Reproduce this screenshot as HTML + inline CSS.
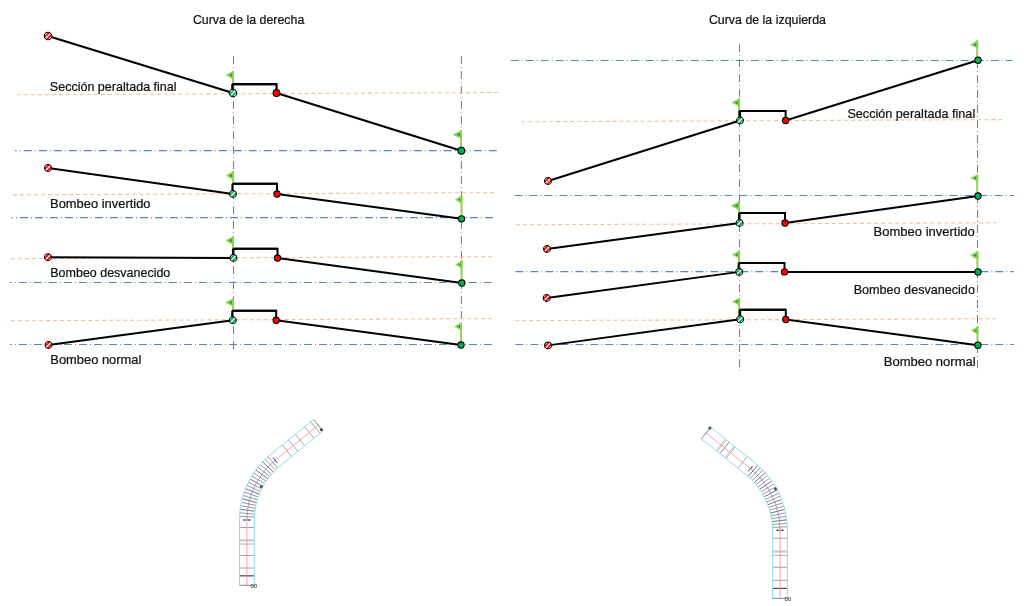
<!DOCTYPE html>
<html><head><meta charset="utf-8"><style>
html,body{margin:0;padding:0;background:#fff;width:1024px;height:606px;overflow:hidden;position:relative}
</style></head><body>
<svg width="1024" height="606" viewBox="0 0 1024 606" style="position:absolute;left:0;top:0;will-change:transform">
<defs><clipPath id="cc"><circle r="3.4"/></clipPath></defs>
<line x1="233.5" y1="56.2" x2="233.5" y2="349" stroke="#5885C8" stroke-width="1.08" stroke-dasharray="7.9 3.1 0.9 3.1" stroke-dashoffset="0"/>
<line x1="461.4" y1="56.2" x2="461.4" y2="320" stroke="#5885C8" stroke-width="1.08" stroke-dasharray="7.9 3.1 0.9 3.1" stroke-dashoffset="0"/>
<line x1="16.8" y1="94.8" x2="497.7" y2="92.5" stroke="#F7BC90" stroke-width="1.05" stroke-dasharray="3.9 3.12" stroke-dashoffset="0"/>
<line x1="15" y1="150.6" x2="497.7" y2="150.6" stroke="#5885C8" stroke-width="1.08" stroke-dasharray="7.9 3.1 0.9 3.1" stroke-dashoffset="6.2"/>
<line x1="13" y1="194.9" x2="493.8" y2="192.6" stroke="#F7BC90" stroke-width="1.05" stroke-dasharray="3.9 3.12" stroke-dashoffset="0"/>
<line x1="11.6" y1="217.6" x2="493.5" y2="217.6" stroke="#5885C8" stroke-width="1.08" stroke-dasharray="7.9 3.1 0.9 3.1" stroke-dashoffset="6.6"/>
<line x1="11" y1="258.7" x2="491.4" y2="256.6" stroke="#F7BC90" stroke-width="1.05" stroke-dasharray="3.9 3.12" stroke-dashoffset="0"/>
<line x1="10" y1="282.5" x2="492.3" y2="282.5" stroke="#5885C8" stroke-width="1.08" stroke-dasharray="7.9 3.1 0.9 3.1" stroke-dashoffset="6.2"/>
<line x1="11" y1="320.8" x2="491.4" y2="318.6" stroke="#F7BC90" stroke-width="1.05" stroke-dasharray="3.9 3.12" stroke-dashoffset="0"/>
<line x1="10.2" y1="344.5" x2="492.4" y2="344.5" stroke="#5885C8" stroke-width="1.08" stroke-dasharray="7.9 3.1 0.9 3.1" stroke-dashoffset="6.2"/>
<line x1="739.5" y1="44.2" x2="739.5" y2="371.3" stroke="#5885C8" stroke-width="1.08" stroke-dasharray="7.9 3.1 0.9 3.1" stroke-dashoffset="0"/>
<line x1="977.5" y1="60" x2="977.5" y2="371.2" stroke="#5885C8" stroke-width="1.08" stroke-dasharray="7.9 3.1 0.9 3.1" stroke-dashoffset="0"/>
<line x1="510.2" y1="60.5" x2="1012.7" y2="60.5" stroke="#5885C8" stroke-width="1.08" stroke-dasharray="7.9 3.1 0.9 3.1" stroke-dashoffset="-0.6"/>
<line x1="521.2" y1="121.8" x2="1001.6" y2="119.6" stroke="#F7BC90" stroke-width="1.05" stroke-dasharray="3.9 3.12" stroke-dashoffset="0"/>
<line x1="514.5" y1="195.5" x2="1014" y2="195.5" stroke="#5885C8" stroke-width="1.08" stroke-dasharray="7.9 3.1 0.9 3.1" stroke-dashoffset="0"/>
<line x1="516.1" y1="224.8" x2="996.5" y2="222.8" stroke="#F7BC90" stroke-width="1.05" stroke-dasharray="3.9 3.12" stroke-dashoffset="0"/>
<line x1="515.4" y1="271.6" x2="1013.8" y2="271.6" stroke="#5885C8" stroke-width="1.08" stroke-dasharray="7.9 3.1 0.9 3.1" stroke-dashoffset="0"/>
<line x1="515.4" y1="344.5" x2="1014" y2="344.5" stroke="#5885C8" stroke-width="1.08" stroke-dasharray="7.9 3.1 0.9 3.1" stroke-dashoffset="0"/>
<line x1="515.2" y1="320.7" x2="995.5" y2="318.7" stroke="#F7BC90" stroke-width="1.05" stroke-dasharray="3.9 3.12" stroke-dashoffset="0"/>
<polyline points="48,36 233,93" fill="none" stroke="#000" stroke-width="2.25" stroke-linejoin="miter" stroke-linecap="butt"/>
<polyline points="233,93 233,84 276.5,84 276.5,93" fill="none" stroke="#000" stroke-width="2.25" stroke-linejoin="miter" stroke-linecap="butt"/>
<polyline points="276.5,93 461.3,150.7" fill="none" stroke="#000" stroke-width="2.25" stroke-linejoin="miter" stroke-linecap="butt"/>
<line x1="233" y1="71" x2="233" y2="89.6" stroke="#92D050" stroke-width="1.9"/>
<polygon points="233.5,71.4 226.5,75 233.5,79.3" fill="#92D050" stroke="#92D050" stroke-width="0.9" stroke-linejoin="round"/>
<polygon points="232.0,73.3 229.0,75.1 232.0,76.7" fill="#00B050"/>
<line x1="461" y1="130" x2="461" y2="147.29999999999998" stroke="#92D050" stroke-width="1.9"/>
<polygon points="461.5,130.4 453.5,134.7 461.5,138.3" fill="#92D050" stroke="#92D050" stroke-width="0.9" stroke-linejoin="round"/>
<polygon points="460.0,133.0 456.0,134.79999999999998 460.0,136.39999999999998" fill="#00B050"/>
<polyline points="232.4,89.6 232.4,84" fill="none" stroke="#000" stroke-width="2.25" stroke-linejoin="miter" stroke-linecap="butt"/>
<polyline points="232.4,84 276.5,84" fill="none" stroke="#000" stroke-width="2.25" stroke-linejoin="miter" stroke-linecap="butt"/>
<g transform="translate(48,36)"><circle r="3.6999999999999997" fill="#fff"/><line x1="-6.10" y1="3.90" x2="3.90" y2="-6.10" stroke="#FF0000" stroke-width="1.75" clip-path="url(#cc)"/><line x1="-3.90" y1="6.10" x2="6.10" y2="-3.90" stroke="#FF0000" stroke-width="1.75" clip-path="url(#cc)"/><circle r="3.6999999999999997" fill="none" stroke="#000" stroke-width="1.05"/></g>
<g transform="translate(233,93)"><circle r="3.6999999999999997" fill="#fff"/><line x1="-6.10" y1="3.90" x2="3.90" y2="-6.10" stroke="#00B050" stroke-width="1.75" clip-path="url(#cc)"/><line x1="-3.90" y1="6.10" x2="6.10" y2="-3.90" stroke="#00B050" stroke-width="1.75" clip-path="url(#cc)"/><circle r="3.6999999999999997" fill="none" stroke="#000" stroke-width="1.05"/></g>
<circle cx="276.5" cy="93" r="3.4" fill="#FF0000" stroke="#000" stroke-width="1.05"/>
<circle cx="461.3" cy="150.7" r="3.4" fill="#00B050" stroke="#000" stroke-width="1.05"/>
<polyline points="48,168 233,194" fill="none" stroke="#000" stroke-width="1.95" stroke-linejoin="miter" stroke-linecap="butt"/>
<polyline points="233,194 233,183.8 277,183.8 277,194" fill="none" stroke="#000" stroke-width="1.95" stroke-linejoin="miter" stroke-linecap="butt"/>
<polyline points="277,194 461.5,218.8" fill="none" stroke="#000" stroke-width="1.95" stroke-linejoin="miter" stroke-linecap="butt"/>
<line x1="233" y1="171" x2="233" y2="190.85" stroke="#92D050" stroke-width="1.9"/>
<polygon points="233.5,171.4 226.5,175.6 233.5,179.70000000000002" fill="#92D050" stroke="#92D050" stroke-width="0.9" stroke-linejoin="round"/>
<polygon points="232.0,173.9 229.0,175.7 232.0,177.29999999999998" fill="#00B050"/>
<line x1="461.5" y1="195.3" x2="461.5" y2="215.65" stroke="#92D050" stroke-width="1.9"/>
<polygon points="462.0,195.70000000000002 455.5,199.6 462.0,203.5" fill="#92D050" stroke="#92D050" stroke-width="0.9" stroke-linejoin="round"/>
<polygon points="460.5,197.9 458.0,199.7 460.5,201.29999999999998" fill="#00B050"/>
<polyline points="232.4,190.85 232.4,183.8" fill="none" stroke="#000" stroke-width="1.95" stroke-linejoin="miter" stroke-linecap="butt"/>
<polyline points="232.4,183.8 277,183.8" fill="none" stroke="#000" stroke-width="1.95" stroke-linejoin="miter" stroke-linecap="butt"/>
<g transform="translate(48,168)"><circle r="3.4499999999999997" fill="#fff"/><line x1="-6.10" y1="3.90" x2="3.90" y2="-6.10" stroke="#FF0000" stroke-width="1.75" clip-path="url(#cc)"/><line x1="-3.90" y1="6.10" x2="6.10" y2="-3.90" stroke="#FF0000" stroke-width="1.75" clip-path="url(#cc)"/><circle r="3.4499999999999997" fill="none" stroke="#000" stroke-width="1.05"/></g>
<g transform="translate(233,194)"><circle r="3.4499999999999997" fill="#fff"/><line x1="-6.10" y1="3.90" x2="3.90" y2="-6.10" stroke="#00B050" stroke-width="1.75" clip-path="url(#cc)"/><line x1="-3.90" y1="6.10" x2="6.10" y2="-3.90" stroke="#00B050" stroke-width="1.75" clip-path="url(#cc)"/><circle r="3.4499999999999997" fill="none" stroke="#000" stroke-width="1.05"/></g>
<circle cx="277" cy="194" r="3.15" fill="#FF0000" stroke="#000" stroke-width="1.05"/>
<circle cx="461.5" cy="218.8" r="3.15" fill="#00B050" stroke="#000" stroke-width="1.05"/>
<polyline points="48,257.2 233.5,257.9" fill="none" stroke="#000" stroke-width="1.95" stroke-linejoin="miter" stroke-linecap="butt"/>
<polyline points="233.5,257.9 233.5,248.75 277.5,248.75 277.5,258" fill="none" stroke="#000" stroke-width="1.95" stroke-linejoin="miter" stroke-linecap="butt"/>
<polyline points="277.5,258 461.8,283" fill="none" stroke="#000" stroke-width="1.95" stroke-linejoin="miter" stroke-linecap="butt"/>
<line x1="233" y1="236.25" x2="233" y2="254.74999999999997" stroke="#92D050" stroke-width="1.9"/>
<polygon points="233.5,236.65 226.0,240.5 233.5,244.8" fill="#92D050" stroke="#92D050" stroke-width="0.9" stroke-linejoin="round"/>
<polygon points="232.0,238.8 228.5,240.6 232.0,242.2" fill="#00B050"/>
<line x1="461.6" y1="260.3" x2="461.6" y2="279.85" stroke="#92D050" stroke-width="1.9"/>
<polygon points="462.1,260.7 455.7,264.7 462.1,268.0" fill="#92D050" stroke="#92D050" stroke-width="0.9" stroke-linejoin="round"/>
<polygon points="460.6,263.0 458.2,264.8 460.6,266.4" fill="#00B050"/>
<polyline points="232.9,254.74999999999997 232.9,248.75" fill="none" stroke="#000" stroke-width="1.95" stroke-linejoin="miter" stroke-linecap="butt"/>
<polyline points="232.9,248.75 277.5,248.75" fill="none" stroke="#000" stroke-width="1.95" stroke-linejoin="miter" stroke-linecap="butt"/>
<g transform="translate(48,257.2)"><circle r="3.4499999999999997" fill="#fff"/><line x1="-6.10" y1="3.90" x2="3.90" y2="-6.10" stroke="#FF0000" stroke-width="1.75" clip-path="url(#cc)"/><line x1="-3.90" y1="6.10" x2="6.10" y2="-3.90" stroke="#FF0000" stroke-width="1.75" clip-path="url(#cc)"/><circle r="3.4499999999999997" fill="none" stroke="#000" stroke-width="1.05"/></g>
<g transform="translate(233.5,257.9)"><circle r="3.4499999999999997" fill="#fff"/><line x1="-6.10" y1="3.90" x2="3.90" y2="-6.10" stroke="#00B050" stroke-width="1.75" clip-path="url(#cc)"/><line x1="-3.90" y1="6.10" x2="6.10" y2="-3.90" stroke="#00B050" stroke-width="1.75" clip-path="url(#cc)"/><circle r="3.4499999999999997" fill="none" stroke="#000" stroke-width="1.05"/></g>
<circle cx="277.5" cy="258" r="3.15" fill="#FF0000" stroke="#000" stroke-width="1.05"/>
<circle cx="461.8" cy="283" r="3.15" fill="#00B050" stroke="#000" stroke-width="1.05"/>
<polyline points="48.5,345 232.8,320.25" fill="none" stroke="#000" stroke-width="1.95" stroke-linejoin="miter" stroke-linecap="butt"/>
<polyline points="232.8,320.25 232.8,310.8 276.2,310.8 276.2,320.25" fill="none" stroke="#000" stroke-width="1.95" stroke-linejoin="miter" stroke-linecap="butt"/>
<polyline points="276.2,320.25 461,345" fill="none" stroke="#000" stroke-width="1.95" stroke-linejoin="miter" stroke-linecap="butt"/>
<line x1="233" y1="298.1" x2="233" y2="317.1" stroke="#92D050" stroke-width="1.9"/>
<polygon points="233.5,298.5 226.0,302.5 233.5,306.5" fill="#92D050" stroke="#92D050" stroke-width="0.9" stroke-linejoin="round"/>
<polygon points="232.0,300.8 228.5,302.6 232.0,304.2" fill="#00B050"/>
<line x1="461" y1="322.6" x2="461" y2="341.85" stroke="#92D050" stroke-width="1.9"/>
<polygon points="461.5,323.0 454.8,326.5 461.5,330.0" fill="#92D050" stroke="#92D050" stroke-width="0.9" stroke-linejoin="round"/>
<polygon points="460.0,324.8 457.3,326.6 460.0,328.2" fill="#00B050"/>
<polyline points="232.20000000000002,317.1 232.20000000000002,310.8" fill="none" stroke="#000" stroke-width="1.95" stroke-linejoin="miter" stroke-linecap="butt"/>
<polyline points="232.20000000000002,310.8 276.2,310.8" fill="none" stroke="#000" stroke-width="1.95" stroke-linejoin="miter" stroke-linecap="butt"/>
<g transform="translate(48.5,345)"><circle r="3.4499999999999997" fill="#fff"/><line x1="-6.10" y1="3.90" x2="3.90" y2="-6.10" stroke="#FF0000" stroke-width="1.75" clip-path="url(#cc)"/><line x1="-3.90" y1="6.10" x2="6.10" y2="-3.90" stroke="#FF0000" stroke-width="1.75" clip-path="url(#cc)"/><circle r="3.4499999999999997" fill="none" stroke="#000" stroke-width="1.05"/></g>
<g transform="translate(232.8,320.25)"><circle r="3.4499999999999997" fill="#fff"/><line x1="-6.10" y1="3.90" x2="3.90" y2="-6.10" stroke="#00B050" stroke-width="1.75" clip-path="url(#cc)"/><line x1="-3.90" y1="6.10" x2="6.10" y2="-3.90" stroke="#00B050" stroke-width="1.75" clip-path="url(#cc)"/><circle r="3.4499999999999997" fill="none" stroke="#000" stroke-width="1.05"/></g>
<circle cx="276.2" cy="320.25" r="3.15" fill="#FF0000" stroke="#000" stroke-width="1.05"/>
<circle cx="461" cy="345" r="3.15" fill="#00B050" stroke="#000" stroke-width="1.05"/>
<polyline points="548,181 740,120.5" fill="none" stroke="#000" stroke-width="1.95" stroke-linejoin="miter" stroke-linecap="butt"/>
<polyline points="740,120.5 740,110.9 785.6,110.9 785.6,120.5" fill="none" stroke="#000" stroke-width="1.95" stroke-linejoin="miter" stroke-linecap="butt"/>
<polyline points="785.6,120.5 978,60.2" fill="none" stroke="#000" stroke-width="1.95" stroke-linejoin="miter" stroke-linecap="butt"/>
<line x1="739" y1="98.2" x2="739" y2="117.35" stroke="#92D050" stroke-width="1.9"/>
<polygon points="739.5,98.60000000000001 732.3,102.6 739.5,106.3" fill="#92D050" stroke="#92D050" stroke-width="0.9" stroke-linejoin="round"/>
<polygon points="738.0,100.89999999999999 734.8,102.69999999999999 738.0,104.3" fill="#00B050"/>
<line x1="977.2" y1="40.3" x2="977.2" y2="57.050000000000004" stroke="#92D050" stroke-width="1.9"/>
<polygon points="977.7,40.699999999999996 970.7,44.7 977.7,48.0" fill="#92D050" stroke="#92D050" stroke-width="0.9" stroke-linejoin="round"/>
<polygon points="976.2,43.0 973.2,44.800000000000004 976.2,46.400000000000006" fill="#00B050"/>
<polyline points="739.4,117.35 739.4,110.9" fill="none" stroke="#000" stroke-width="1.95" stroke-linejoin="miter" stroke-linecap="butt"/>
<polyline points="739.4,110.9 785.6,110.9" fill="none" stroke="#000" stroke-width="1.95" stroke-linejoin="miter" stroke-linecap="butt"/>
<g transform="translate(548,181)"><circle r="3.4499999999999997" fill="#fff"/><line x1="-6.10" y1="3.90" x2="3.90" y2="-6.10" stroke="#FF0000" stroke-width="1.75" clip-path="url(#cc)"/><line x1="-3.90" y1="6.10" x2="6.10" y2="-3.90" stroke="#FF0000" stroke-width="1.75" clip-path="url(#cc)"/><circle r="3.4499999999999997" fill="none" stroke="#000" stroke-width="1.05"/></g>
<g transform="translate(740,120.5)"><circle r="3.4499999999999997" fill="#fff"/><line x1="-6.10" y1="3.90" x2="3.90" y2="-6.10" stroke="#00B050" stroke-width="1.75" clip-path="url(#cc)"/><line x1="-3.90" y1="6.10" x2="6.10" y2="-3.90" stroke="#00B050" stroke-width="1.75" clip-path="url(#cc)"/><circle r="3.4499999999999997" fill="none" stroke="#000" stroke-width="1.05"/></g>
<circle cx="785.6" cy="120.5" r="3.15" fill="#FF0000" stroke="#000" stroke-width="1.05"/>
<circle cx="978" cy="60.2" r="3.15" fill="#00B050" stroke="#000" stroke-width="1.05"/>
<polyline points="547,249 739.6,223" fill="none" stroke="#000" stroke-width="1.95" stroke-linejoin="miter" stroke-linecap="butt"/>
<polyline points="739.6,223 739.6,212.9 785,212.9 785,223" fill="none" stroke="#000" stroke-width="1.95" stroke-linejoin="miter" stroke-linecap="butt"/>
<polyline points="785,223 978,196" fill="none" stroke="#000" stroke-width="1.95" stroke-linejoin="miter" stroke-linecap="butt"/>
<line x1="739" y1="201.1" x2="739" y2="219.85" stroke="#92D050" stroke-width="1.9"/>
<polygon points="739.5,201.5 731.6,205.7 739.5,210.10000000000002" fill="#92D050" stroke="#92D050" stroke-width="0.9" stroke-linejoin="round"/>
<polygon points="738.0,204.0 734.1,205.79999999999998 738.0,207.39999999999998" fill="#00B050"/>
<line x1="977.2" y1="174.5" x2="977.2" y2="192.85" stroke="#92D050" stroke-width="1.9"/>
<polygon points="977.7,174.9 970.9,178 977.7,181.3" fill="#92D050" stroke="#92D050" stroke-width="0.9" stroke-linejoin="round"/>
<polygon points="976.2,176.3 973.4,178.1 976.2,179.7" fill="#00B050"/>
<polyline points="739.0,219.85 739.0,212.9" fill="none" stroke="#000" stroke-width="1.95" stroke-linejoin="miter" stroke-linecap="butt"/>
<polyline points="739.0,212.9 785,212.9" fill="none" stroke="#000" stroke-width="1.95" stroke-linejoin="miter" stroke-linecap="butt"/>
<g transform="translate(547,249)"><circle r="3.4499999999999997" fill="#fff"/><line x1="-6.10" y1="3.90" x2="3.90" y2="-6.10" stroke="#FF0000" stroke-width="1.75" clip-path="url(#cc)"/><line x1="-3.90" y1="6.10" x2="6.10" y2="-3.90" stroke="#FF0000" stroke-width="1.75" clip-path="url(#cc)"/><circle r="3.4499999999999997" fill="none" stroke="#000" stroke-width="1.05"/></g>
<g transform="translate(739.6,223)"><circle r="3.4499999999999997" fill="#fff"/><line x1="-6.10" y1="3.90" x2="3.90" y2="-6.10" stroke="#00B050" stroke-width="1.75" clip-path="url(#cc)"/><line x1="-3.90" y1="6.10" x2="6.10" y2="-3.90" stroke="#00B050" stroke-width="1.75" clip-path="url(#cc)"/><circle r="3.4499999999999997" fill="none" stroke="#000" stroke-width="1.05"/></g>
<circle cx="785" cy="223" r="3.15" fill="#FF0000" stroke="#000" stroke-width="1.05"/>
<circle cx="978" cy="196" r="3.15" fill="#00B050" stroke="#000" stroke-width="1.05"/>
<polyline points="546.6,298 739.2,271.9" fill="none" stroke="#000" stroke-width="1.95" stroke-linejoin="miter" stroke-linecap="butt"/>
<polyline points="739.2,271.9 739.2,262.9 784.5,262.9 784.5,271.9" fill="none" stroke="#000" stroke-width="1.95" stroke-linejoin="miter" stroke-linecap="butt"/>
<polyline points="784.5,271.9 978,271.9" fill="none" stroke="#000" stroke-width="1.95" stroke-linejoin="miter" stroke-linecap="butt"/>
<line x1="738.8" y1="250.6" x2="738.8" y2="268.75" stroke="#92D050" stroke-width="1.9"/>
<polygon points="739.3,251.0 732.6,254.7 739.3,258.1" fill="#92D050" stroke="#92D050" stroke-width="0.9" stroke-linejoin="round"/>
<polygon points="737.8,253.0 735.1,254.79999999999998 737.8,256.4" fill="#00B050"/>
<line x1="977.4" y1="251.1" x2="977.4" y2="268.75" stroke="#92D050" stroke-width="1.9"/>
<polygon points="977.9,251.5 970.7,255.3 977.9,259.6" fill="#92D050" stroke="#92D050" stroke-width="0.9" stroke-linejoin="round"/>
<polygon points="976.4,253.60000000000002 973.2,255.4 976.4,257.0" fill="#00B050"/>
<polyline points="738.6,268.75 738.6,262.9" fill="none" stroke="#000" stroke-width="1.95" stroke-linejoin="miter" stroke-linecap="butt"/>
<polyline points="738.6,262.9 784.5,262.9" fill="none" stroke="#000" stroke-width="1.95" stroke-linejoin="miter" stroke-linecap="butt"/>
<g transform="translate(546.6,298)"><circle r="3.4499999999999997" fill="#fff"/><line x1="-6.10" y1="3.90" x2="3.90" y2="-6.10" stroke="#FF0000" stroke-width="1.75" clip-path="url(#cc)"/><line x1="-3.90" y1="6.10" x2="6.10" y2="-3.90" stroke="#FF0000" stroke-width="1.75" clip-path="url(#cc)"/><circle r="3.4499999999999997" fill="none" stroke="#000" stroke-width="1.05"/></g>
<g transform="translate(739.2,271.9)"><circle r="3.4499999999999997" fill="#fff"/><line x1="-6.10" y1="3.90" x2="3.90" y2="-6.10" stroke="#00B050" stroke-width="1.75" clip-path="url(#cc)"/><line x1="-3.90" y1="6.10" x2="6.10" y2="-3.90" stroke="#00B050" stroke-width="1.75" clip-path="url(#cc)"/><circle r="3.4499999999999997" fill="none" stroke="#000" stroke-width="1.05"/></g>
<circle cx="784.5" cy="271.9" r="3.15" fill="#FF0000" stroke="#000" stroke-width="1.05"/>
<circle cx="978" cy="271.9" r="3.15" fill="#00B050" stroke="#000" stroke-width="1.05"/>
<polyline points="548,345.4 740.2,319.3" fill="none" stroke="#000" stroke-width="1.95" stroke-linejoin="miter" stroke-linecap="butt"/>
<polyline points="740.2,319.3 740.2,309.8 785.8,309.8 785.8,319.5" fill="none" stroke="#000" stroke-width="1.95" stroke-linejoin="miter" stroke-linecap="butt"/>
<polyline points="785.8,319.5 977.9,345.2" fill="none" stroke="#000" stroke-width="1.95" stroke-linejoin="miter" stroke-linecap="butt"/>
<line x1="739.1" y1="297.9" x2="739.1" y2="316.15000000000003" stroke="#92D050" stroke-width="1.9"/>
<polygon points="739.6,298.29999999999995 732.7,301.5 739.6,305.3" fill="#92D050" stroke="#92D050" stroke-width="0.9" stroke-linejoin="round"/>
<polygon points="738.1,299.8 735.2,301.6 738.1,303.2" fill="#00B050"/>
<line x1="977.5" y1="326.4" x2="977.5" y2="342.05" stroke="#92D050" stroke-width="1.9"/>
<polygon points="978.0,326.79999999999995 971.7,330.6 978.0,334.0" fill="#92D050" stroke="#92D050" stroke-width="0.9" stroke-linejoin="round"/>
<polygon points="976.5,328.90000000000003 974.2,330.70000000000005 976.5,332.3" fill="#00B050"/>
<polyline points="739.6,316.15000000000003 739.6,309.8" fill="none" stroke="#000" stroke-width="1.95" stroke-linejoin="miter" stroke-linecap="butt"/>
<polyline points="739.6,309.8 785.8,309.8" fill="none" stroke="#000" stroke-width="1.95" stroke-linejoin="miter" stroke-linecap="butt"/>
<g transform="translate(548,345.4)"><circle r="3.4499999999999997" fill="#fff"/><line x1="-6.10" y1="3.90" x2="3.90" y2="-6.10" stroke="#FF0000" stroke-width="1.75" clip-path="url(#cc)"/><line x1="-3.90" y1="6.10" x2="6.10" y2="-3.90" stroke="#FF0000" stroke-width="1.75" clip-path="url(#cc)"/><circle r="3.4499999999999997" fill="none" stroke="#000" stroke-width="1.05"/></g>
<g transform="translate(740.2,319.3)"><circle r="3.4499999999999997" fill="#fff"/><line x1="-6.10" y1="3.90" x2="3.90" y2="-6.10" stroke="#00B050" stroke-width="1.75" clip-path="url(#cc)"/><line x1="-3.90" y1="6.10" x2="6.10" y2="-3.90" stroke="#00B050" stroke-width="1.75" clip-path="url(#cc)"/><circle r="3.4499999999999997" fill="none" stroke="#000" stroke-width="1.05"/></g>
<circle cx="785.8" cy="319.5" r="3.15" fill="#FF0000" stroke="#000" stroke-width="1.05"/>
<circle cx="977.9" cy="345.2" r="3.15" fill="#00B050" stroke="#000" stroke-width="1.05"/>
<g font-family="Liberation Sans, sans-serif" fill="#111" stroke="#111" stroke-width="0.22">
<text x="192.95" y="23.8" font-size="12.6" textLength="111.35" lengthAdjust="spacingAndGlyphs">Curva de la derecha</text>
<text x="49.8" y="90.5" font-size="12.6" textLength="126.8" lengthAdjust="spacingAndGlyphs">Sección peraltada final</text>
<text x="50.1" y="207.9" font-size="12.6" textLength="100.4" lengthAdjust="spacingAndGlyphs">Bombeo invertido</text>
<text x="50.3" y="277.4" font-size="12.6" textLength="120.0" lengthAdjust="spacingAndGlyphs">Bombeo desvanecido</text>
<text x="50.3" y="363.75" font-size="12.6" textLength="91.0" lengthAdjust="spacingAndGlyphs">Bombeo normal</text>
<text x="708.9" y="23.5" font-size="12.6" textLength="117.1" lengthAdjust="spacingAndGlyphs">Curva de la izquierda</text>
<text x="847.4" y="117.6" font-size="12.6" textLength="127.8" lengthAdjust="spacingAndGlyphs">Sección peraltada final</text>
<text x="873.6" y="236.3" font-size="12.6" textLength="101.2" lengthAdjust="spacingAndGlyphs">Bombeo invertido</text>
<text x="853.7" y="293.5" font-size="12.6" textLength="121.2" lengthAdjust="spacingAndGlyphs">Bombeo desvanecido</text>
<text x="883.7" y="365.5" font-size="12.6" textLength="92.0" lengthAdjust="spacingAndGlyphs">Bombeo normal</text>
</g>
<line x1="239.5" y1="575.80" x2="254.3" y2="575.80" stroke="#555" stroke-width="1.3"/>
<line x1="239.5" y1="568.00" x2="254.3" y2="568.00" stroke="#8a8a8a" stroke-width="0.8"/>
<line x1="239.5" y1="555.50" x2="254.3" y2="555.50" stroke="#8a8a8a" stroke-width="0.8"/>
<line x1="239.5" y1="544.00" x2="254.3" y2="544.00" stroke="#9a9a9a" stroke-width="0.8"/>
<line x1="239.5" y1="540.30" x2="254.3" y2="540.30" stroke="#c8c8c8" stroke-width="2.2"/>
<line x1="239.5" y1="527.50" x2="254.3" y2="527.50" stroke="#8a8a8a" stroke-width="0.8"/>
<line x1="254.36" y1="517.06" x2="239.58" y2="516.44" stroke="#808080" stroke-width="0.8"/>
<line x1="254.55" y1="514.13" x2="239.80" y2="512.88" stroke="#808080" stroke-width="0.8"/>
<line x1="254.86" y1="511.21" x2="240.18" y2="509.34" stroke="#505050" stroke-width="0.8"/>
<line x1="255.29" y1="508.30" x2="240.70" y2="505.81" stroke="#808080" stroke-width="0.8"/>
<line x1="255.85" y1="505.42" x2="241.37" y2="502.32" stroke="#808080" stroke-width="0.8"/>
<line x1="256.52" y1="502.56" x2="242.19" y2="498.85" stroke="#505050" stroke-width="0.8"/>
<line x1="257.32" y1="499.73" x2="243.16" y2="495.42" stroke="#808080" stroke-width="0.8"/>
<line x1="258.23" y1="496.94" x2="244.27" y2="492.03" stroke="#808080" stroke-width="0.8"/>
<line x1="259.26" y1="494.19" x2="245.52" y2="488.70" stroke="#505050" stroke-width="0.8"/>
<line x1="260.41" y1="491.48" x2="246.91" y2="485.42" stroke="#808080" stroke-width="0.8"/>
<line x1="261.67" y1="488.83" x2="248.44" y2="482.20" stroke="#808080" stroke-width="0.8"/>
<line x1="263.04" y1="486.23" x2="250.10" y2="479.05" stroke="#505050" stroke-width="0.8"/>
<line x1="264.52" y1="483.69" x2="251.90" y2="475.97" stroke="#808080" stroke-width="0.8"/>
<line x1="266.11" y1="481.21" x2="253.82" y2="472.97" stroke="#808080" stroke-width="0.8"/>
<line x1="267.80" y1="478.81" x2="255.87" y2="470.05" stroke="#505050" stroke-width="0.8"/>
<line x1="269.59" y1="476.48" x2="258.04" y2="467.22" stroke="#808080" stroke-width="0.8"/>
<line x1="271.47" y1="474.22" x2="260.32" y2="464.49" stroke="#808080" stroke-width="0.8"/>
<line x1="273.45" y1="472.05" x2="262.72" y2="461.86" stroke="#505050" stroke-width="0.8"/>
<line x1="275.52" y1="469.97" x2="265.23" y2="459.33" stroke="#808080" stroke-width="0.8"/>
<line x1="277.67" y1="467.97" x2="267.84" y2="456.90" stroke="#808080" stroke-width="0.8"/>
<line x1="282.26" y1="445.05" x2="291.61" y2="456.52" stroke="#8a8a8a" stroke-width="0.75"/>
<line x1="288.61" y1="439.87" x2="297.97" y2="451.34" stroke="#8a8a8a" stroke-width="0.75"/>
<line x1="295.35" y1="434.37" x2="304.71" y2="445.84" stroke="#8a8a8a" stroke-width="0.75"/>
<line x1="304.58" y1="426.85" x2="313.93" y2="438.32" stroke="#8a8a8a" stroke-width="0.75"/>
<line x1="310.78" y1="421.79" x2="320.13" y2="433.26" stroke="#8a8a8a" stroke-width="0.75"/>
<path d="M239.50,585.30 L239.50,520.00 A84.40,84.40 0 0 1 270.56,454.59 L313.57,419.52" fill="none" stroke="#8EDDF4" stroke-width="1"/>
<path d="M254.30,585.30 L254.30,520.00 A69.60,69.60 0 0 1 279.91,466.06 L322.92,430.99" fill="none" stroke="#8EDDF4" stroke-width="1"/>
<line x1="246.9" y1="585.3" x2="246.9" y2="520" stroke="#F28A8A" stroke-width="0.75"/>
<path d="M246.9,520 A77,77 0 0 1 275.23,460.33" fill="none" stroke="#8484F2" stroke-width="0.8"/>
<line x1="275.23" y1="460.33" x2="318.24" y2="425.25" stroke="#F28A8A" stroke-width="0.75"/>
<line x1="239.5" y1="585.3" x2="254.3" y2="585.3" stroke="#666" stroke-width="0.8"/>
<line x1="313.57" y1="419.52" x2="322.92" y2="430.99" stroke="#666" stroke-width="0.8"/>
<line x1="242.9" y1="520" x2="250.9" y2="520" stroke="#555" stroke-width="0.7"/>
<circle cx="244.4" cy="520" r="0.75" fill="#222"/><circle cx="249.4" cy="520" r="0.75" fill="#222"/>
<line x1="273.02" y1="457.62" x2="277.45" y2="463.04" stroke="#333" stroke-width="0.9"/>
<circle cx="261.3" cy="486.7" r="1.4" fill="#444"/>
<line x1="772.6" y1="588.42" x2="787.4" y2="588.42" stroke="#555" stroke-width="1.3"/>
<line x1="772.6" y1="580.31" x2="787.4" y2="580.31" stroke="#8a8a8a" stroke-width="0.8"/>
<line x1="772.6" y1="567.31" x2="787.4" y2="567.31" stroke="#8a8a8a" stroke-width="0.8"/>
<line x1="772.6" y1="555.35" x2="787.4" y2="555.35" stroke="#9a9a9a" stroke-width="0.8"/>
<line x1="772.6" y1="551.50" x2="787.4" y2="551.50" stroke="#c8c8c8" stroke-width="2.2"/>
<line x1="772.6" y1="538.19" x2="787.4" y2="538.19" stroke="#8a8a8a" stroke-width="0.8"/>
<line x1="772.54" y1="527.39" x2="787.33" y2="526.79" stroke="#808080" stroke-width="0.8"/>
<line x1="772.36" y1="524.49" x2="787.12" y2="523.29" stroke="#808080" stroke-width="0.8"/>
<line x1="772.07" y1="521.60" x2="786.76" y2="519.80" stroke="#505050" stroke-width="0.8"/>
<line x1="771.66" y1="518.72" x2="786.26" y2="516.32" stroke="#808080" stroke-width="0.8"/>
<line x1="771.13" y1="515.86" x2="785.62" y2="512.87" stroke="#808080" stroke-width="0.8"/>
<line x1="770.48" y1="513.02" x2="784.85" y2="509.45" stroke="#505050" stroke-width="0.8"/>
<line x1="769.73" y1="510.22" x2="783.93" y2="506.06" stroke="#808080" stroke-width="0.8"/>
<line x1="768.85" y1="507.44" x2="782.88" y2="502.72" stroke="#808080" stroke-width="0.8"/>
<line x1="767.87" y1="504.70" x2="781.69" y2="499.41" stroke="#505050" stroke-width="0.8"/>
<line x1="766.77" y1="502.01" x2="780.37" y2="496.16" stroke="#808080" stroke-width="0.8"/>
<line x1="765.57" y1="499.36" x2="778.92" y2="492.97" stroke="#808080" stroke-width="0.8"/>
<line x1="764.26" y1="496.77" x2="777.34" y2="489.83" stroke="#505050" stroke-width="0.8"/>
<line x1="762.85" y1="494.22" x2="775.63" y2="486.77" stroke="#808080" stroke-width="0.8"/>
<line x1="761.33" y1="491.74" x2="773.80" y2="483.77" stroke="#808080" stroke-width="0.8"/>
<line x1="759.72" y1="489.33" x2="771.85" y2="480.86" stroke="#505050" stroke-width="0.8"/>
<line x1="758.00" y1="486.97" x2="769.79" y2="478.02" stroke="#808080" stroke-width="0.8"/>
<line x1="756.20" y1="484.70" x2="767.61" y2="475.27" stroke="#808080" stroke-width="0.8"/>
<line x1="754.30" y1="482.49" x2="765.32" y2="472.61" stroke="#505050" stroke-width="0.8"/>
<line x1="752.31" y1="480.37" x2="762.92" y2="470.05" stroke="#808080" stroke-width="0.8"/>
<line x1="750.24" y1="478.32" x2="760.42" y2="467.58" stroke="#808080" stroke-width="0.8"/>
<line x1="748.09" y1="476.37" x2="757.83" y2="465.22" stroke="#505050" stroke-width="0.8"/>
<line x1="737.92" y1="468.11" x2="747.19" y2="456.57" stroke="#8a8a8a" stroke-width="0.75"/>
<line x1="725.84" y1="458.40" x2="735.11" y2="446.86" stroke="#8a8a8a" stroke-width="0.75"/>
<line x1="724.82" y1="457.58" x2="734.10" y2="446.05" stroke="#aaaaaa" stroke-width="0.6"/>
<line x1="719.91" y1="453.63" x2="729.19" y2="442.10" stroke="#777" stroke-width="0.85"/>
<line x1="717.34" y1="451.57" x2="726.61" y2="440.03" stroke="#aaaaaa" stroke-width="0.6"/>
<line x1="716.33" y1="450.75" x2="725.60" y2="439.22" stroke="#999" stroke-width="0.75"/>
<path d="M772.60,598.30 L772.60,530.30 A71.60,71.60 0 0 0 745.86,474.50 L701.44,438.78" fill="none" stroke="#8EDDF4" stroke-width="1"/>
<path d="M787.40,598.30 L787.40,530.30 A86.40,86.40 0 0 0 755.14,462.97 L710.72,427.25" fill="none" stroke="#8EDDF4" stroke-width="1"/>
<line x1="780" y1="598.3" x2="780" y2="530.3" stroke="#F28A8A" stroke-width="0.75"/>
<path d="M780,530.3 A79,79 0 0 0 750.50,468.73" fill="none" stroke="#8484F2" stroke-width="0.8"/>
<line x1="750.50" y1="468.73" x2="706.08" y2="433.02" stroke="#F28A8A" stroke-width="0.75"/>
<line x1="772.6" y1="598.3" x2="787.4" y2="598.3" stroke="#666" stroke-width="0.8"/>
<line x1="701.44" y1="438.78" x2="710.72" y2="427.25" stroke="#666" stroke-width="0.8"/>
<line x1="776" y1="530.3" x2="784" y2="530.3" stroke="#555" stroke-width="0.7"/>
<circle cx="777.5" cy="530.3" r="0.75" fill="#222"/><circle cx="782.5" cy="530.3" r="0.75" fill="#222"/>
<line x1="748.31" y1="471.46" x2="752.69" y2="466.00" stroke="#333" stroke-width="0.9"/>
<circle cx="775.5" cy="489" r="1.4" fill="#444"/>
<text x="250.5" y="587.5" font-size="6" fill="#222" font-family="Liberation Sans, sans-serif">00</text>
<text x="784.5" y="600.5" font-size="6" fill="#222" font-family="Liberation Sans, sans-serif">00</text>
<circle cx="321.4" cy="429.8" r="1.5" fill="#444"/>
<circle cx="709.9" cy="427.9" r="1.5" fill="#444"/>
</svg>
</body></html>
